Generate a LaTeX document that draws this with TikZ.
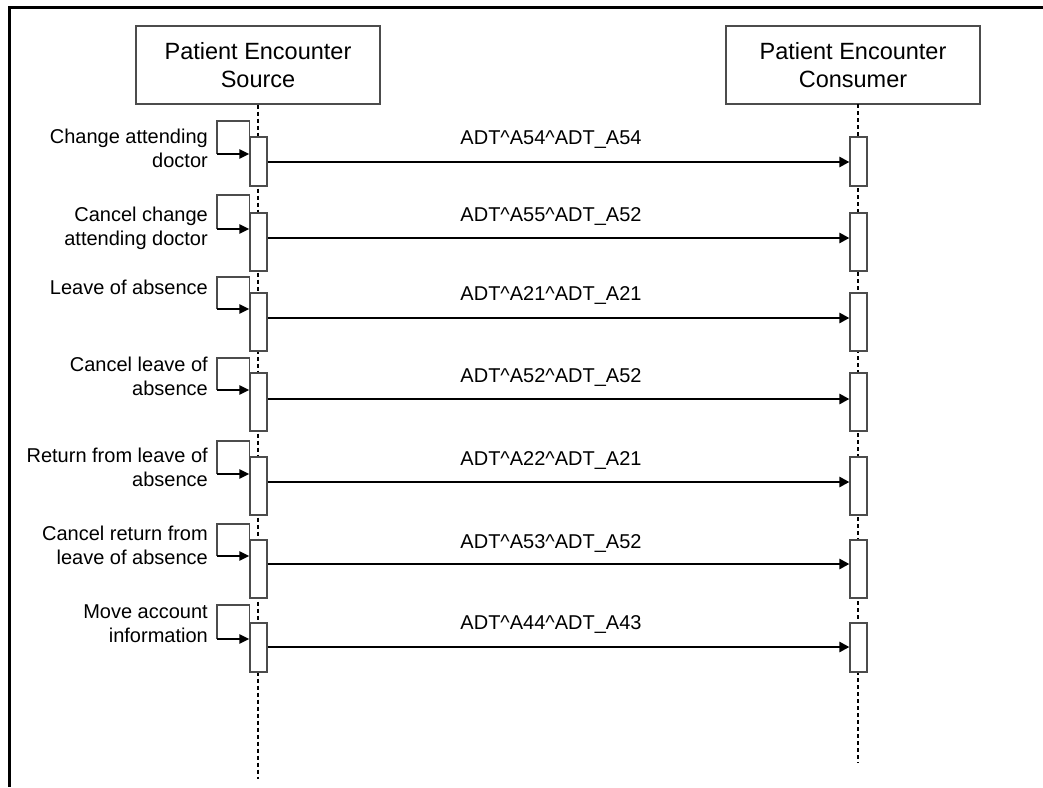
\documentclass[tikz,border=0pt]{standalone}
\usepackage{fontspec}
\setmainfont{Liberation Sans}
\usetikzlibrary{arrows.meta}
\begin{document}
\begin{tikzpicture}[x=1pt,y=-1pt,
  frameline/.style={line width=3pt,black},
  participant/.style={draw=black!70,line width=1.2pt,fill=white,minimum width=244pt,minimum height=78pt,inner sep=0pt,align=center,font=\fontsize{23.5}{28}\selectfont},
  lifeline/.style={line width=2pt,black,dash pattern=on 4pt off 3pt},
  actbox/.style={draw=black!70,line width=1.2pt,fill=white,minimum width=17pt,inner sep=0pt},
  loopline/.style={draw=black!70,line width=1.2pt},
  selfarrow/.style={line width=2.5pt,black,-{Triangle[length=10pt,width=9pt]}},
  msgarrow/.style={line width=2.5pt,black,-{Triangle[length=10pt,width=10pt]}},
  rowlabel/.style={anchor=east,align=right,inner sep=0pt,font=\fontsize{20}{24}\selectfont},
  msglabel/.style={inner sep=0pt,font=\fontsize{20}{24}\selectfont}]
\useasboundingbox (0,0) rectangle (1043,787);
\draw[frameline] (1043,7) -- (9,7) -- (9,787);
% participants
\node[participant] (src) at (258,65) {Patient Encounter\\Source};
\node[participant,minimum width=254pt] (cons) at (853,65) {Patient Encounter\\Consumer};
\coordinate (srcend) at (258,779);
\coordinate (constop) at (858,104);
\coordinate (consend) at (858,763);
\draw[lifeline] (src.south) -- (srcend);
\draw[lifeline] (constop) -- (consend);
% rows
\foreach \i/\top/\bot/\lt/\la/\my/\ly/\ty/\txt/\msg in {
  1/137/186/121/154/162/140/148/{Change attending\\doctor}/{ADT\textasciicircum{}A54\textasciicircum{}ADT\_A54},
  2/213/271/195/229/238/217/228/{Cancel change\\attending doctor}/{ADT\textasciicircum{}A55\textasciicircum{}ADT\_A52},
  3/293/351/277/309/318/296/287/{Leave of absence}/{ADT\textasciicircum{}A21\textasciicircum{}ADT\_A21},
  4/373/431/358/390/399/377/376/{Cancel leave of\\absence}/{ADT\textasciicircum{}A52\textasciicircum{}ADT\_A52},
  5/457/515/441/474/482/460/467/{Return from leave of\\absence}/{ADT\textasciicircum{}A22\textasciicircum{}ADT\_A21},
  6/540/598/524/556/564/543/545/{Cancel return from\\leave of absence}/{ADT\textasciicircum{}A53\textasciicircum{}ADT\_A52},
  7/623/672/605/639/647/624/624/{Move account\\information}/{ADT\textasciicircum{}A44\textasciicircum{}ADT\_A43}}
{
  \pgfmathsetmacro{\h}{\bot-\top}
  \pgfmathsetmacro{\c}{(\bot+\top)/2}
  \node[actbox,minimum height=\h pt] (sa\i) at (258.5,\c) {};
  \node[actbox,minimum height=\h pt] (ca\i) at (858.5,\c) {};
  \coordinate (lt\i) at (217,\lt);
  \coordinate (lb\i) at (217,\la);
  \draw[loopline] (sa\i.north west) |- (lt\i) -- (lb\i);
  \draw[selfarrow] (lb\i) -- (sa\i.west |- lb\i);
  \coordinate (ms\i) at (267,\my);
  \draw[msgarrow] (sa\i.east |- ms\i) -- (ca\i.west |- ms\i);
  \node[rowlabel] (t\i) at (208,\ty) {\txt};
  \node[msglabel] (m\i) at (551,\ly) {\msg};
}
\end{tikzpicture}
\end{document}
